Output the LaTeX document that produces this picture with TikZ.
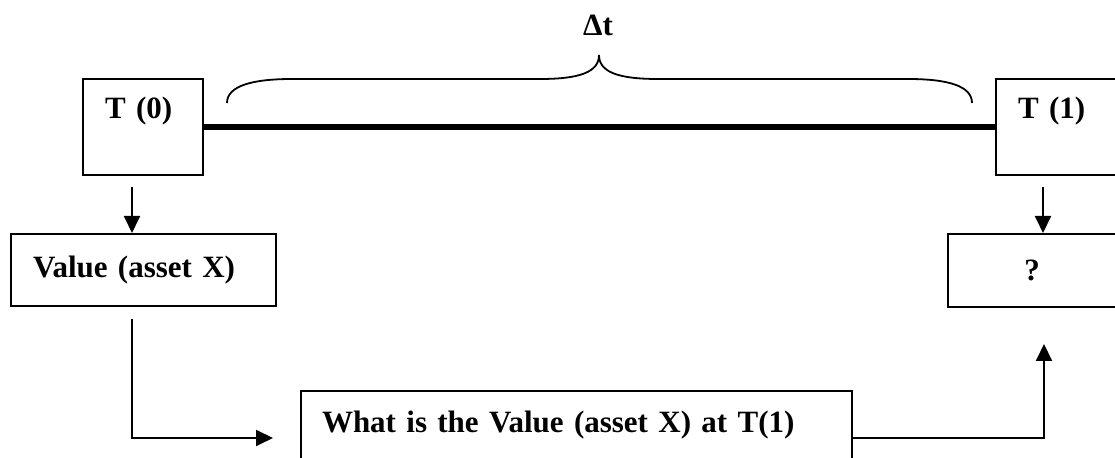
\documentclass[tikz,border=0pt]{standalone}
\usepackage{fontspec}
\setmainfont{Liberation Serif}
\usetikzlibrary{arrows.meta}

\begin{document}
\begin{tikzpicture}[x=0.5pt, y=-0.5pt,
    box/.style={draw, line width=1pt, font=\bfseries\fontsize{15.5}{18.5}\selectfont, inner ysep=2pt},
    lbl/.style={font=\bfseries\fontsize{15.5}{18.5}\selectfont, inner sep=0pt},
    arr/.style={line width=1pt, -{Triangle[length=8.5pt,width=8pt]}},
    timeline/.style={line width=2.6pt}]
  \useasboundingbox (0,0) rectangle (1115,458);
  % time points
  \node[box, minimum width=60pt, minimum height=48pt, text width=38pt, inner xsep=11pt, align=left,
    text height=12pt, text depth=20pt] (t0) at (143,127) {T (0)};
  \node[box, minimum width=60pt, minimum height=48pt, text width=38pt, inner xsep=11pt, align=left,
    text height=12pt, text depth=20pt] (t1) at (1056,127) {T (1)};
  \draw[timeline] (t0.east) -- (t1.west);
  % interval
  \draw[line width=0.9pt] (227,103) .. controls (227,86) and (252,79) .. (292,79) -- (540,79)
    .. controls (580,79) and (599,72) .. (599,55) .. controls (599,72) and (618,79) .. (658,79)
    -- (908,79) .. controls (948,79) and (972,86) .. (972,103);
  \node[lbl] (dt) at (598,25) {Δt};
  % values
  \node[box, minimum width=132.5pt, minimum height=36pt, text width=110.5pt, inner xsep=11pt,
    align=left] (val) at (143.5,270) {Value (asset X)};
  \node[box, minimum width=84pt, minimum height=36.5pt, align=center] (q) at (1032,270.5) {?};
  \node[box, minimum width=275.5pt, minimum height=54pt, text width=254.5pt, inner xsep=10.5pt,
    align=left, text height=12pt, text depth=24pt] (what) at (576.5,445) {What is the Value (asset X) at T(1)};
  % connectors
  \draw[arr] ([xshift=-5.5pt,yshift=-5.5pt]t0.south) -- ([xshift=-5.75pt]val.north);
  \draw[arr] ([xshift=-6.5pt,yshift=-5.5pt]t1.south) -- ([xshift=5.5pt]q.north);
  \draw[arr] ([xshift=-5.75pt,yshift=-6pt]val.south) |- ([xshift=-13.5pt,yshift=3.5pt]what.west);
  \draw[arr] ([yshift=3.5pt]what.east) -| ([xshift=6pt,yshift=-18pt]q.south);
\end{tikzpicture}
\end{document}
